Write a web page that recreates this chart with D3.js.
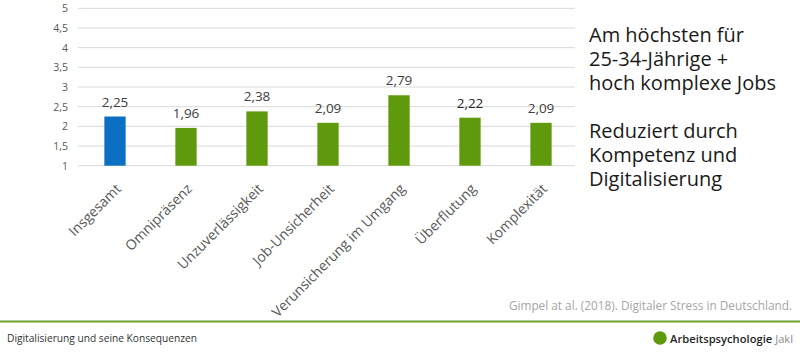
<!DOCTYPE html>
<html><head><meta charset="utf-8">
<script src="https://cdn.jsdelivr.net/npm/d3@7"></script>
<style>
html,body{margin:0;padding:0;background:#fff;}
svg{display:block;font-family:"Open Sans",sans-serif;}
</style></head>
<body>
<svg id="c" width="800" height="358"></svg>
<script>
const categories = ["Insgesamt","Omnipräsenz","Unzuverlässigkeit","Job-Unsicherheit","Verunsicherung im Umgang","Überflutung","Komplexität"];
const values = [2.25,1.96,2.38,2.09,2.79,2.22,2.09];
const valueLabels = ["2,25","1,96","2,38","2,09","2,79","2,22","2,09"];
const yTicks = [1,1.5,2,2.5,3,3.5,4,4.5,5];
const yTickLabels = ["1","1,5","2","2,5","3","3,5","4","4,5","5"];
const noteBlock1 = ["Am höchsten für","25-34-Jährige +","hoch komplexe Jobs"];
const noteBlock2 = ["Reduziert durch","Kompetenz und","Digitalisierung"];
const sourceText = "Gimpel at al. (2018). Digitaler Stress in Deutschland.";
const footerLeft = "Digitalisierung und seine Konsequenzen";

const svg = d3.select("#c");
const x = d3.scaleBand().domain(categories).range([79.5,576.5]).paddingInner(0.7).paddingOuter(0.35);
const y = d3.scaleLinear().domain([1,5]).range([165.7,8.3]);

// gridlines
svg.append("g").selectAll("line").data(yTicks).join("line")
  .attr("x1",78).attr("x2",575).attr("y1",d=>y(d)).attr("y2",d=>y(d))
  .attr("stroke","#d9d9d9").attr("stroke-width",1);

// y axis
const yAxis = d3.axisLeft(y).tickValues(yTicks).tickFormat((d,i)=>yTickLabels[i]).tickSize(0).tickPadding(10);
const ya = svg.append("g").attr("transform","translate(78,0)").call(yAxis);
ya.select(".domain").remove();
ya.selectAll("text").attr("font-family","Open Sans").attr("font-size",10.5).attr("fill","#595959");

// bars
svg.append("g").selectAll("rect").data(values).join("rect")
  .attr("x",(d,i)=>x(categories[i])).attr("width",x.bandwidth())
  .attr("y",d=>y(d)).attr("height",d=>y(1)-y(d))
  .attr("fill",(d,i)=>i===0?"#0b70c1":"#5f9a0c");

// value labels
svg.append("g").selectAll("text").data(values).join("text")
  .attr("x",(d,i)=>x(categories[i])+x.bandwidth()/2).attr("y",d=>y(d)-10)
  .attr("text-anchor","middle").attr("font-size",13.5)
  .attr("fill",(d,i)=>i===5?"#262626":"#404040")
  .text((d,i)=>valueLabels[i]);

// category labels
const xAxis = d3.axisBottom(x).tickSize(0).tickPadding(0);
const xa = svg.append("g").attr("transform","translate(0,165.7)").call(xAxis);
xa.select(".domain").remove();
xa.selectAll("text")
  .attr("font-family","Open Sans").attr("font-size",14).attr("fill","#595959")
  .attr("text-anchor","end").attr("dy",0).attr("y",0)
  .attr("transform","translate(7,24) rotate(-45)");

// notes
function block(lines, y0){
  const t = svg.append("text").attr("font-size",20).attr("fill","#1a1a1a");
  t.selectAll("tspan").data(lines).join("tspan")
    .attr("x",589).attr("y",(d,i)=>y0+i*24).text(d=>d);
}
block(noteBlock1, 42);
block(noteBlock2, 138);

// source
svg.append("text").attr("x",792).attr("y",310).attr("text-anchor","end")
  .attr("font-size",11.8).attr("fill","#a6a6a6").text(sourceText);

// footer line
svg.append("line").attr("x1",0).attr("x2",800).attr("y1",321.5).attr("y2",321.5)
  .attr("stroke","#6aa22c").attr("stroke-width",2);

svg.append("text").attr("x",7).attr("y",342).attr("font-size",10.2).attr("fill","#333").text(footerLeft);

svg.append("circle").attr("cx",660).attr("cy",338).attr("r",6.8).attr("fill","#5f9a0c");
const logo = svg.append("text").attr("x",670).attr("y",342.5).attr("font-size",11.2);
logo.append("tspan").attr("fill","#262626").attr("font-weight",600).text("Arbeitspsychologie");
logo.append("tspan").attr("fill","#8c8c8c").text(" Jakl");
</script>
</body></html>
